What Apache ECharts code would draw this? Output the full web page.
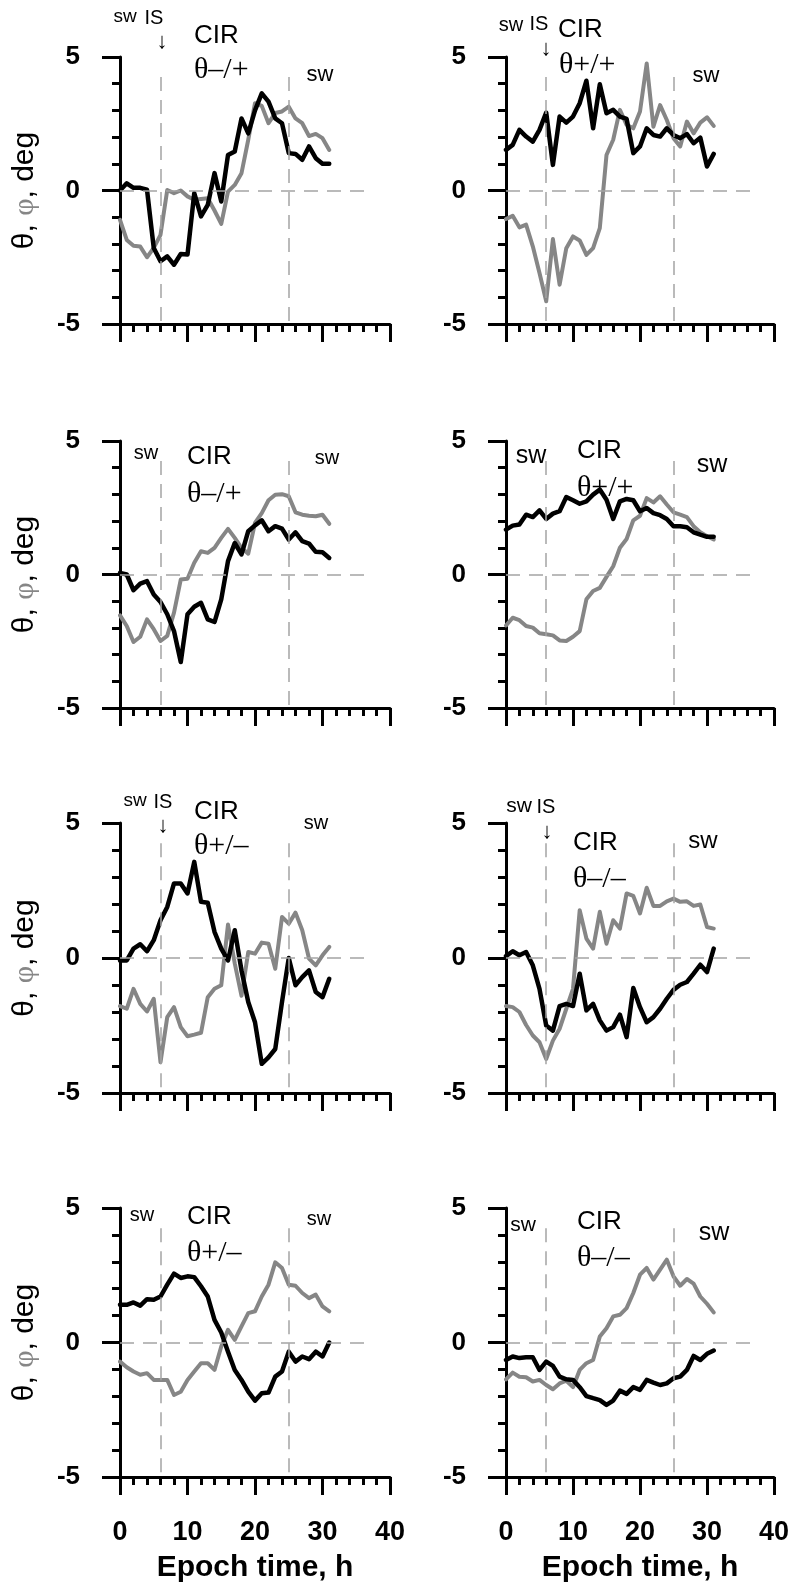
<!DOCTYPE html>
<html><head><meta charset="utf-8">
<script src="https://cdn.jsdelivr.net/npm/echarts/dist/echarts.min.js"></script>
<style>html,body{margin:0;padding:0;background:#fff}#c{width:795px;height:1589px}</style>
</head><body><div id="c"></div><script>
// ---------------- DATA ----------------
const epochHours = [0,1,2,3,4,5,6,7,8,9,10,11,12,13,14,15,16,17,18,19,20,21,22,23,24,25,26,27,28,29,30,31];

const theta1 = [0.0,0.27,0.1,0.1,0.03,-2.15,-2.65,-2.47,-2.78,-2.38,-2.4,-0.1,-0.97,-0.54,0.65,-0.41,1.33,1.46,2.7,2.14,3.0,3.64,3.33,2.7,2.52,1.4,1.37,1.15,1.65,1.21,1.0,1.0];
const phi1   = [-1.1,-1.85,-2.07,-2.1,-2.5,-2.15,-1.66,0.02,-0.1,0.0,-0.22,-0.35,-0.32,-0.29,-0.75,-1.25,-0.04,0.21,0.65,1.9,3.27,3.17,2.52,2.9,2.96,3.14,2.7,2.52,2.04,2.12,1.96,1.52];

const theta2 = [1.52,1.71,2.27,2.02,1.83,2.27,2.92,0.96,2.77,2.54,2.77,3.27,4.11,2.33,3.98,2.89,3.02,2.77,2.68,1.4,1.65,2.33,2.08,2.02,2.33,2.08,1.96,2.11,1.77,1.98,0.9,1.37];
const phi2   = [-1.07,-0.95,-1.38,-1.28,-2.09,-3.09,-4.15,-1.82,-3.53,-2.16,-1.72,-1.87,-2.41,-2.16,-1.41,1.33,1.9,3.02,2.46,2.33,2.96,4.76,2.39,3.2,2.64,1.96,1.65,2.58,2.14,2.54,2.74,2.42];

const theta3 = [0.06,0,-0.59,-0.34,-0.25,-0.75,-1.03,-1.49,-2.12,-3.28,-1.49,-1.21,-1.06,-1.68,-1.78,-0.93,0.5,1.18,0.75,1.62,1.84,2.03,1.62,1.81,1.72,1.31,1.58,1.25,1.16,0.85,0.83,0.62];
const phi3   = [-1.53,-1.93,-2.53,-2.33,-1.68,-2.05,-2.49,-2.3,-1.43,-0.19,-0.16,0.44,0.87,0.81,1.0,1.37,1.71,1.37,1.0,0.78,1.93,2.3,2.78,2.99,3.01,2.93,2.33,2.24,2.2,2.18,2.24,1.9];

const theta4 = [1.68,1.83,1.87,2.24,2.15,2.4,2.08,2.28,2.37,2.9,2.78,2.65,2.74,2.99,3.18,2.8,2.08,2.74,2.83,2.78,2.37,2.49,2.3,2.22,2.08,1.81,1.81,1.77,1.58,1.49,1.41,1.41];
const phi4   = [-1.91,-1.62,-1.71,-1.93,-1.99,-2.2,-2.24,-2.28,-2.47,-2.49,-2.33,-2.12,-0.93,-0.62,-0.5,-0.09,0.31,1.0,1.33,2.03,2.2,2.86,2.7,2.93,2.62,2.33,2.24,2.15,1.81,1.58,1.43,1.31];

const theta5 = [-0.09,-0.09,0.35,0.51,0.25,0.66,1.4,1.89,2.76,2.76,2.39,3.56,2.08,2.05,0.97,0.35,-0.09,1.03,-0.46,-1.63,-2.38,-3.92,-3.68,-3.37,-1.63,0,-1.01,-0.71,-0.46,-1.26,-1.45,-0.77];
const phi5   = [-1.78,-1.88,-1.14,-1.7,-1.98,-1.51,-3.86,-2.19,-1.82,-2.56,-2.9,-2.84,-2.77,-1.45,-1.14,-1.01,1.24,-0.2,-1.4,0.22,0.16,0.57,0.53,-0.4,1.52,1.27,1.68,1.03,-0.02,-0.27,0.1,0.41];

const theta6 = [0.07,0.25,0.1,0.22,-0.27,-1.14,-2.5,-2.69,-1.78,-1.7,-1.78,-0.58,-1.94,-1.7,-2.31,-2.69,-2.56,-2.1,-2.93,-1.11,-1.82,-2.38,-2.19,-1.88,-1.51,-1.18,-0.99,-0.89,-0.58,-0.25,-0.52,0.35];
const phi6   = [-1.78,-1.82,-2.0,-2.48,-2.87,-3.12,-3.74,-3.06,-2.62,-1.88,-1.14,1.77,0.72,0.35,1.71,0.53,1.4,1.09,2.39,2.3,1.65,2.6,1.93,1.93,2.1,2.2,2.08,2.1,1.93,1.98,1.15,1.09];

const theta7 = [1.4,1.4,1.49,1.37,1.61,1.59,1.71,2.15,2.56,2.4,2.46,2.43,2.09,1.71,0.84,0.37,-0.34,-1.02,-1.39,-1.83,-2.16,-1.89,-1.86,-1.27,-1.08,-0.34,-0.71,-0.52,-0.62,-0.34,-0.52,0];
const phi7   = [-0.71,-0.92,-1.08,-1.2,-1.14,-1.39,-1.39,-1.39,-1.95,-1.83,-1.39,-1.08,-0.77,-0.77,-1.02,-0.15,0.47,0.1,0.6,1.09,1.16,1.71,2.15,2.98,2.77,2.15,2.11,1.84,1.65,1.78,1.34,1.16];

const theta8 = [-0.65,-0.52,-0.58,-0.55,-0.55,-1.02,-0.71,-0.87,-1.27,-1.37,-1.39,-1.66,-1.99,-2.07,-2.14,-2.32,-2.16,-1.79,-1.91,-1.66,-1.76,-1.39,-1.49,-1.58,-1.52,-1.33,-1.27,-1.02,-0.5,-0.65,-0.42,-0.3];
const phi8   = [-1.37,-1.12,-1.27,-1.29,-1.45,-1.39,-1.58,-1.74,-1.52,-1.42,-1.66,-1.02,-0.77,-0.65,0.22,0.53,0.97,1.03,1.28,1.84,2.52,2.77,2.34,2.71,3.08,2.46,2.11,2.36,2.19,1.71,1.44,1.12];

const xTickValues = [0,10,20,30,40];
const yTickValues = [-5,0,5];
const boundaryHours = [6, 25];       // sw/CIR boundaries (dashed verticals)
const boundaryTop = 4.25;            // top of dashed verticals (deg)
const zeroLineEnd = 37.3;            // end of dashed zero line (h)
const panelTitles = ['θ–/+','θ+/+','θ–/+','θ+/+','θ+/–','θ–/–','θ+/–','θ–/–'];
const thetaSets = [theta1,theta2,theta3,theta4,theta5,theta6,theta7,theta8];
const phiSets = [phi1,phi2,phi3,phi4,phi5,phi6,phi7,phi8];

// ---------------- LAYOUT ----------------
const grids = [
  {left:120, top:57,   width:270, height:267},
  {left:506, top:57,   width:268, height:267},
  {left:120, top:441,  width:270, height:267},
  {left:506, top:441,  width:268, height:267},
  {left:120, top:823,  width:270, height:270},
  {left:506, top:823,  width:268, height:270},
  {left:120, top:1208, width:270, height:269},
  {left:506, top:1208, width:268, height:269}
];
const SANS = "'Liberation Sans', Arial, sans-serif";
const SERIF = "'Liberation Serif', 'Times New Roman', serif";
const GREY = '#868686';

// annotations: [text, x, y, fontSize, align, serif?]
const notes = [
  ['sw',125,17,19,'center'],['IS',154,18,20,'center'],['↓',162,42,22,'center'],
  ['CIR',194,36,26,'left'],[panelTitles[0],194,70,30,'left',1],['sw',320,75,22,'center'],

  ['sw',511,25,20,'center'],['IS',539,24,20,'center'],['↓',546,49,22,'center'],
  ['CIR',558,30,26,'left'],[panelTitles[1],559,65,30,'left',1],['sw',706,76,22,'center'],

  ['sw',146,453,20,'center'],['CIR',187,457,26,'left'],[panelTitles[2],187,494,30,'left',1],['sw',327,458,20,'center'],

  ['sw',531,456,25,'center'],['CIR',577,451,26,'left'],[panelTitles[3],577,488,30,'left',1],['sw',712,465,25,'center'],

  ['sw',135,801,19,'center'],['IS',163,802,20,'center'],['↓',163,826,22,'center'],
  ['CIR',194,812,26,'left'],[panelTitles[4],194,846,30,'left',1],['sw',316,823,20,'center'],

  ['sw',519,806,21,'center'],['IS',546,807,20,'center'],['↓',547,832,22,'center'],
  ['CIR',573,843,26,'left'],[panelTitles[5],573,879,30,'left',1],['sw',703,841,24,'center'],

  ['sw',142,1215,20,'center'],['CIR',187,1217,26,'left'],[panelTitles[6],187,1253,30,'left',1],['sw',319,1219,20,'center'],

  ['sw',523,1225,21,'center'],['CIR',577,1222,26,'left'],[panelTitles[7],577,1258,30,'left',1],['sw',714,1233,25,'center']
];

const chart = echarts.init(document.getElementById('c'), null, {renderer:'canvas'});

const grid = [], xAxis = [], yAxis = [], series = [];
grids.forEach((g, i) => {
  grid.push(Object.assign({outerBoundsMode:'none', containLabel:false}, g));
  const bottomRow = i >= 6;
  const leftCol = i % 2 === 0;
  xAxis.push({
    type:'value', gridIndex:i, min:0, max:40, interval:10,
    axisLine:{show:true, onZero:false, lineStyle:{color:'#000', width:3}},
    axisTick:{show:true, inside:false, length:18, lineStyle:{color:'#000', width:3}},
    minorTick:{show:true, splitNumber:5, length:8, lineStyle:{color:'#000', width:3}},
    splitLine:{show:false}, minorSplitLine:{show:false},
    axisLabel:{show:bottomRow, margin:42, color:'#000', fontSize:27, fontWeight:'bold', fontFamily:SANS,
      formatter: v => xTickValues.includes(v) ? String(v) : ''},
    name: bottomRow ? 'Epoch time, h' : '',
    nameLocation:'middle', nameGap:76,
    nameTextStyle:{color:'#000', fontSize:30, fontWeight:'bold', fontFamily:SANS}
  });
  yAxis.push({
    type:'value', gridIndex:i, min:-5, max:5, interval:5,
    axisLine:{show:true, onZero:false, lineStyle:{color:'#000', width:3}},
    axisTick:{show:true, inside:false, length:18, lineStyle:{color:'#000', width:3}},
    minorTick:{show:true, splitNumber:5, length:8, lineStyle:{color:'#000', width:3}},
    splitLine:{show:false}, minorSplitLine:{show:false},
    axisLabel:{show:true, margin:40, color:'#000', fontSize:26, fontWeight:'bold', fontFamily:SANS,
      formatter: v => yTickValues.includes(v) ? String(v) : ''},
    name: leftCol ? '{a|θ, }{b|φ}{a|, deg}' : '',
    nameLocation:'middle', nameGap:80, nameRotate:90,
    nameTextStyle:{fontSize:30, fontFamily:SANS, color:'#000',
      rich:{a:{fontSize:30, fontFamily:SANS, color:'#000'}, b:{fontSize:30, fontFamily:SERIF, color:GREY}}}
  });
  // dashed reference lines
  const ml = boundaryHours.map(h => [{coord:[h, boundaryTop]}, {coord:[h, -5]}]);
  ml.push([{coord:[0, 0]}, {coord:[zeroLineEnd, 0]}]);
  series.push({
    type:'line', xAxisIndex:i, yAxisIndex:i, data:[], z:1, silent:true,
    markLine:{silent:true, symbol:['none','none'], label:{show:false},
      lineStyle:{type:[14,9], color:'#a4a4a4', width:1.5}, data:ml}
  });
  series.push({
    type:'line', xAxisIndex:i, yAxisIndex:i, z:2, showSymbol:false, symbol:'none',
    data: epochHours.map((h, k) => [h, phiSets[i][k]]),
    lineStyle:{color:GREY, width:4, join:'round', cap:'round'}
  });
  series.push({
    type:'line', xAxisIndex:i, yAxisIndex:i, z:3, showSymbol:false, symbol:'none',
    data: epochHours.map((h, k) => [h, thetaSets[i][k]]),
    lineStyle:{color:'#000', width:4.5, join:'round', cap:'round'}
  });
});

const graphic = notes.map(n => ({
  type:'text', x:n[1], y:n[2], z:10, silent:true,
  style:{text:n[0], fill:'#000', fontSize:n[3], fontFamily: n[5] ? SERIF : SANS,
    align:n[4], verticalAlign:'middle'}
}));

chart.setOption({
  animation:false, backgroundColor:'#fff',
  grid, xAxis, yAxis, series, graphic
});
</script></body></html>
